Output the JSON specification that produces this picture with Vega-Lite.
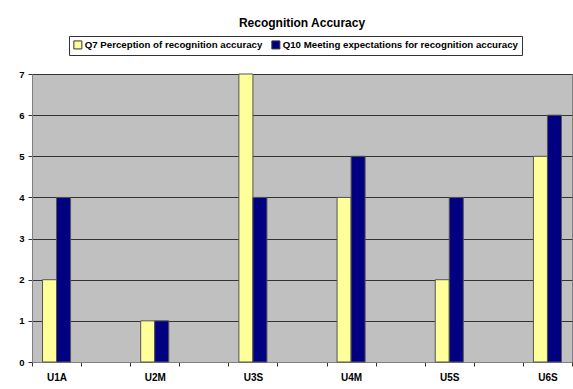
{
  "$schema": "https://vega.github.io/schema/vega-lite/v6.json",
  "width": 540,
  "height": 288,
  "autosize": {"type": "none"},
  "padding": {"left": 32, "top": 74, "right": 1, "bottom": 27},
  "background": "white",
  "title": {
    "text": "Recognition Accuracy",
    "font": "Liberation Sans",
    "fontSize": 12,
    "fontWeight": "bold",
    "color": "black",
    "anchor": "middle",
    "offset": 6
  },
  "data": {
    "values": [
      {"user": "U1A", "series": "Q7 Perception of recognition accuracy", "value": 2},
      {"user": "U1A", "series": "Q10 Meeting expectations for recognition accuracy", "value": 4},
      {"user": "U2M", "series": "Q7 Perception of recognition accuracy", "value": 1},
      {"user": "U2M", "series": "Q10 Meeting expectations for recognition accuracy", "value": 1},
      {"user": "U3S", "series": "Q7 Perception of recognition accuracy", "value": 7},
      {"user": "U3S", "series": "Q10 Meeting expectations for recognition accuracy", "value": 4},
      {"user": "U4M", "series": "Q7 Perception of recognition accuracy", "value": 4},
      {"user": "U4M", "series": "Q10 Meeting expectations for recognition accuracy", "value": 5},
      {"user": "U5S", "series": "Q7 Perception of recognition accuracy", "value": 2},
      {"user": "U5S", "series": "Q10 Meeting expectations for recognition accuracy", "value": 4},
      {"user": "U6S", "series": "Q7 Perception of recognition accuracy", "value": 5},
      {"user": "U6S", "series": "Q10 Meeting expectations for recognition accuracy", "value": 6}
    ]
  },
  "mark": {"type": "bar", "stroke": "#555555", "strokeWidth": 1},
  "encoding": {
    "x": {
      "field": "user",
      "type": "nominal",
      "scale": {
        "domain": ["U1A", " ", "U2M", "  ", "U3S", "   ", "U4M", "    ", "U5S", "     ", "U6S"],
        "paddingInner": 0,
        "paddingOuter": 0
      },
      "axis": {
        "title": null,
        "labelAngle": 0,
        "tickBand": "extent",
        "labelFont": "Liberation Sans",
        "labelFontSize": 10,
        "labelFontWeight": "bold",
        "labelColor": "black",
        "labelPadding": 6,
        "tickSize": 4,
        "tickColor": "#333333",
        "domainColor": "#808080",
        "grid": false
      }
    },
    "xOffset": {
      "field": "series",
      "type": "nominal",
      "sort": ["Q7 Perception of recognition accuracy", "Q10 Meeting expectations for recognition accuracy"],
      "scale": {"paddingInner": 0, "paddingOuter": 0.75}
    },
    "y": {
      "field": "value",
      "type": "quantitative",
      "scale": {"domain": [0, 7], "nice": false},
      "axis": {
        "title": null,
        "values": [0, 1, 2, 3, 4, 5, 6, 7],
        "labelFont": "Liberation Sans",
        "labelFontSize": 9.5,
        "labelFontWeight": "bold",
        "labelColor": "black",
        "labelPadding": 4,
        "tickSize": 4,
        "tickColor": "#333333",
        "domainColor": "#808080",
        "grid": true,
        "gridColor": "#333333",
        "gridWidth": 1
      }
    },
    "color": {
      "field": "series",
      "type": "nominal",
      "sort": ["Q7 Perception of recognition accuracy", "Q10 Meeting expectations for recognition accuracy"],
      "scale": {
        "domain": ["Q7 Perception of recognition accuracy", "Q10 Meeting expectations for recognition accuracy"],
        "range": ["#FFFF99", "#000080"]
      },
      "legend": {
        "title": null,
        "orient": "none",
        "direction": "horizontal",
        "legendX": 37,
        "legendY": -38,
        "symbolType": "square",
        "symbolSize": 64,
        "symbolStrokeColor": "#333333",
        "symbolStrokeWidth": 1,
        "labelFont": "Liberation Sans",
        "labelFontSize": 9.7,
        "labelFontWeight": "bold",
        "labelColor": "black",
        "labelOffset": 2,
        "labelLimit": 400,
        "columnPadding": 6,
        "strokeColor": "#333333",
        "padding": 4
      }
    }
  },
  "config": {
    "view": {"fill": "#C0C0C0", "stroke": "#808080"}
  }
}
